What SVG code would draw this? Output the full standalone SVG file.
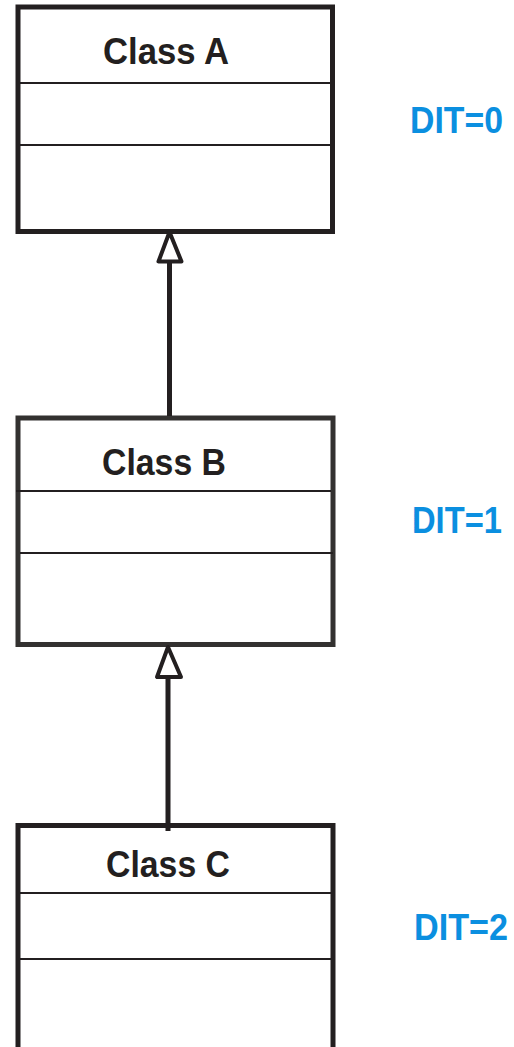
<svg xmlns="http://www.w3.org/2000/svg" width="514" height="1047" viewBox="0 0 514 1047">
  <style>
    .box { fill: #fff; stroke: #231f20; stroke-width: 5; }
    .boxB { stroke: #333130; }
    .div { stroke: #231f20; stroke-width: 2; }
    .name { font-family: "Liberation Sans", Arial, sans-serif; font-weight: bold; font-size: 37px; fill: #231f20; text-anchor: middle; }
    .dit { font-family: "Liberation Sans", Arial, sans-serif; font-weight: bold; font-size: 36px; fill: #0b8fe0; }
    .edge { stroke: #231f20; stroke-width: 5; fill: none; }
    .head { fill: #fff; stroke: #231f20; stroke-width: 4; stroke-linejoin: round; }
  </style>
  <rect width="514" height="1047" fill="#fff"/>

  <g id="classA">
    <rect class="box" x="18" y="7" width="314.5" height="224.5"/>
    <line class="div" x1="20" y1="83" x2="331" y2="83"/>
    <line class="div" x1="20" y1="145" x2="331" y2="145"/>
    <text class="name" x="166" y="64" textLength="126" lengthAdjust="spacingAndGlyphs">Class A</text>
  </g>

  <g id="classB">
    <rect class="box boxB" x="18" y="418" width="315" height="226.5"/>
    <line class="div" x1="16" y1="491" x2="331" y2="491"/>
    <line class="div" x1="20" y1="553" x2="333" y2="553"/>
    <text class="name" x="164" y="475" textLength="124" lengthAdjust="spacingAndGlyphs">Class B</text>
  </g>

  <g id="classC">
    <path class="box" d="M18,1050 V825.5 H333 V1050"/>
    <line class="div" x1="20" y1="893" x2="331" y2="893"/>
    <line class="div" x1="20" y1="959" x2="331" y2="959"/>
    <text class="name" x="168" y="877" textLength="124" lengthAdjust="spacingAndGlyphs">Class C</text>
  </g>

  <g id="connectors">
    <line class="edge" x1="169.5" y1="262" x2="169.5" y2="416"/>
    <path class="head" d="M169.5,232 L158.5,261.5 L181.5,261.5 Z"/>
    <line class="edge" x1="168" y1="677" x2="168" y2="831"/>
    <path class="head" d="M168,647 L157,677 L181,677 Z"/>
  </g>

  <g id="labels">
    <text class="dit" x="410" y="133" textLength="93" lengthAdjust="spacingAndGlyphs">DIT=0</text>
    <text class="dit" x="412" y="533" textLength="90" lengthAdjust="spacingAndGlyphs">DIT=1</text>
    <text class="dit" x="414" y="940" textLength="94" lengthAdjust="spacingAndGlyphs">DIT=2</text>
  </g>
</svg>
